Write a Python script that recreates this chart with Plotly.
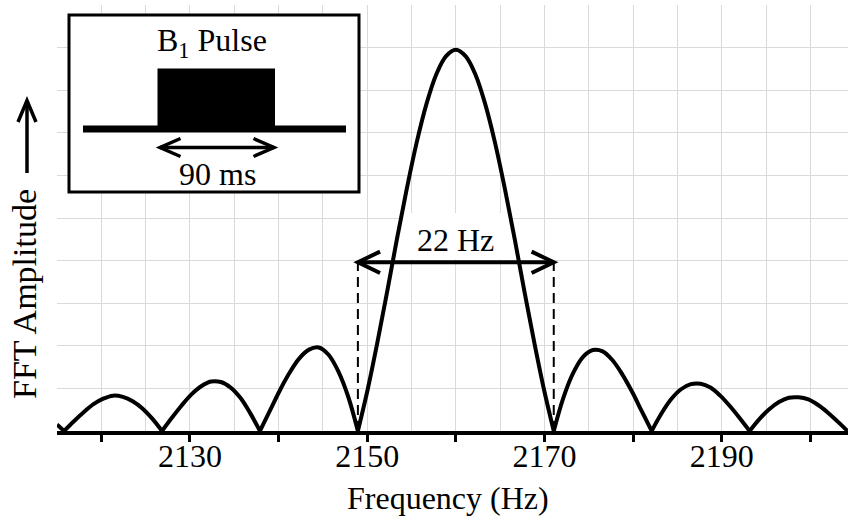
import plotly.graph_objects as go

# ---------------- data ----------------
freq = [2115.0, 2115.8, 2116.91, 2118.01, 2119.12, 2120.22, 2121.33, 2122.43, 2123.54, 2124.64, 2125.75,
        2126.85, 2127.96, 2129.06, 2130.17, 2131.27, 2132.38, 2133.48, 2134.59, 2135.69, 2136.80,
        2137.90, 2139.01, 2140.11, 2141.22, 2142.32, 2143.43, 2144.53, 2145.64, 2146.74, 2147.85,
        2148.95, 2150.06, 2151.16, 2152.27, 2153.37, 2154.48, 2155.58, 2156.69, 2157.79, 2158.90,
        2160.00, 2161.10, 2162.21, 2163.31, 2164.42, 2165.52, 2166.63, 2167.73, 2168.84, 2169.94,
        2171.05, 2172.15, 2173.26, 2174.36, 2175.47, 2176.57, 2177.68, 2178.78, 2179.89, 2180.99,
        2182.10, 2183.20, 2184.31, 2185.41, 2186.52, 2187.62, 2188.73, 2189.83, 2190.94, 2192.04,
        2193.15, 2194.25, 2195.36, 2196.46, 2197.57, 2198.67, 2199.78, 2200.88, 2201.99, 2203.09,
        2204.20]

amp = [0.15, 0,
       0.23, 0.44, 0.63, 0.76, 0.83, 0.80, 0.70, 0.53, 0.29,
       0,
       0.31, 0.60, 0.86, 1.05, 1.16, 1.15, 1.02, 0.78, 0.42,
       0,
       0.47, 0.94, 1.36, 1.70, 1.91, 1.96, 1.79, 1.40, 0.81,
       0,
       0.98, 2.09, 3.29, 4.52, 5.70, 6.77, 7.68, 8.37, 8.80, 8.95, 8.80, 8.37, 7.68, 6.77, 5.70, 4.52,
       3.29, 2.09, 0.98,
       0,
       0.79, 1.37, 1.74, 1.90, 1.87, 1.66, 1.33, 0.92, 0.46,
       0,
       0.41, 0.75, 0.98, 1.10, 1.11, 1.02, 0.83, 0.58, 0.30,
       0,
       0.28, 0.51, 0.68, 0.78, 0.79, 0.74, 0.61, 0.43, 0.22,
       0]

tick_vals = [2120, 2130, 2140, 2150, 2160, 2170, 2180, 2190, 2200]
tick_text = ["", "2130", "", "2150", "", "2170", "", "2190", ""]

fwhm_left, fwhm_right, fwhm_level = 2148.95, 2171.05, 3.96
fwhm_label = "22 Hz"
pulse_label = "B<sub>1</sub> Pulse"
duration_label = "90 ms"
x_title = "Frequency (Hz)"
y_title = "FFT Amplitude"

# ---------------- figure geometry ----------------
W, H = 848, 520
ML, MR, MT, MB = 57, 0, 5, 89
PW, PH = W - ML - MR, H - MT - MB
FONT = "Liberation Serif, Times New Roman, serif"


def pp(x, y):
    """pixel -> paper coordinates"""
    return (x - ML) / PW, (H - MB - y) / PH


def ppath(points):
    s = []
    for i, (x, y) in enumerate(points):
        px_, py_ = pp(x, y)
        s.append(("M" if i == 0 else "L") + f"{px_:.5f},{py_:.5f}")
    return " ".join(s)


fig = go.Figure()

# split curve into lobes at the zeros so each lobe is a smooth arc with sharp cusps
segs = []
cx, cy = [freq[0]], [amp[0]]
for f, a in zip(freq[1:], amp[1:]):
    cx.append(f)
    cy.append(a)
    if a == 0:
        segs.append((cx, cy))
        cx, cy = [f], [a]
if len(cx) > 1:
    segs.append((cx, cy))

for xs, ys in segs:
    fig.add_trace(go.Scatter(x=xs, y=ys, mode="lines",
                             line=dict(color="black", width=4, shape="spline", smoothing=1.0),
                             showlegend=False, hoverinfo="skip"))

shapes = []
# white patch behind the "22 Hz" label (under the curve)
shapes.append(dict(type="rect", xref="x", yref="y", x0=2153.6, x1=2166.4, y0=4.03, y1=5.12,
                   fillcolor="white", line=dict(width=0), layer="between"))
# dashed guides
for xv in (fwhm_left, fwhm_right):
    shapes.append(dict(type="line", xref="x", yref="y", x0=xv, x1=xv, y0=0, y1=fwhm_level,
                       line=dict(color="black", width=2, dash="10px,6px")))
# double arrow 22 Hz
shapes.append(dict(type="line", xref="x", yref="y", x0=fwhm_left, x1=fwhm_right,
                   y0=fwhm_level, y1=fwhm_level, line=dict(color="black", width=4)))
dxh, dyh = 2.5, 0.25
shapes.append(dict(type="path", xref="x", yref="y",
                   path=f"M{fwhm_left + dxh},{fwhm_level + dyh} L{fwhm_left},{fwhm_level} L{fwhm_left + dxh},{fwhm_level - dyh}",
                   line=dict(color="black", width=4)))
shapes.append(dict(type="path", xref="x", yref="y",
                   path=f"M{fwhm_right - dxh},{fwhm_level + dyh} L{fwhm_right},{fwhm_level} L{fwhm_right - dxh},{fwhm_level - dyh}",
                   line=dict(color="black", width=4)))

# inset box
x0, y0 = pp(69, 15)
x1, y1 = pp(359, 192)
shapes.append(dict(type="rect", xref="paper", yref="paper", x0=x0, y0=y0, x1=x1, y1=y1,
                   fillcolor="white", line=dict(color="black", width=3)))
# pulse baseline
bx0, by = pp(83, 129)
bx1, _ = pp(346, 129)
shapes.append(dict(type="line", xref="paper", yref="paper", x0=bx0, x1=bx1, y0=by, y1=by,
                   line=dict(color="black", width=7)))
# pulse block
rx0, ry0 = pp(157.5, 68.5)
rx1, ry1 = pp(275, 129)
shapes.append(dict(type="rect", xref="paper", yref="paper", x0=rx0, y0=ry0, x1=rx1, y1=ry1,
                   fillcolor="black", line=dict(width=0)))
# inset double arrow
shapes.append(dict(type="path", xref="paper", yref="paper",
                   path=ppath([(160, 147.5), (274, 147.5)]), line=dict(color="black", width=3.5)))
shapes.append(dict(type="path", xref="paper", yref="paper",
                   path=ppath([(180.5, 138.5), (160, 147.5), (180.5, 156.5)]), line=dict(color="black", width=3.5)))
shapes.append(dict(type="path", xref="paper", yref="paper",
                   path=ppath([(253.5, 138.5), (274, 147.5), (253.5, 156.5)]), line=dict(color="black", width=3.5)))
# y-axis arrow
shapes.append(dict(type="path", xref="paper", yref="paper",
                   path=ppath([(27, 173), (27, 101)]), line=dict(color="black", width=3.5)))
shapes.append(dict(type="path", xref="paper", yref="paper",
                   path=ppath([(18, 122), (27, 100.5), (36, 122)]), line=dict(color="black", width=3.5)))

annotations = []
annotations.append(dict(x=2160, y=4.48, xref="x", yref="y", text=fwhm_label, showarrow=False,
                        font=dict(family=FONT, size=32, color="black"), xanchor="center", yanchor="middle"))
ax_, ay_ = pp(211.7, 42)
annotations.append(dict(x=ax_, y=ay_, xref="paper", yref="paper", text=pulse_label, showarrow=False,
                        font=dict(family=FONT, size=32, color="black"), xanchor="center", yanchor="middle"))
ax_, ay_ = pp(217.5, 174)
annotations.append(dict(x=ax_, y=ay_, xref="paper", yref="paper", text=duration_label, showarrow=False,
                        font=dict(family=FONT, size=32, color="black"), xanchor="center", yanchor="middle"))
ax_, ay_ = pp(448, 498)
annotations.append(dict(x=ax_, y=ay_, xref="paper", yref="paper", text=x_title, showarrow=False,
                        font=dict(family=FONT, size=32, color="black"), xanchor="center", yanchor="middle"))
ax_, ay_ = pp(24, 294)
annotations.append(dict(x=ax_, y=ay_, xref="paper", yref="paper", text=y_title, showarrow=False,
                        textangle=-90,
                        font=dict(family=FONT, size=34, color="black"), xanchor="center", yanchor="middle"))

GRID = "#dadada"
fig.update_layout(
    width=W, height=H,
    margin=dict(l=ML, r=MR, t=MT, b=MB, pad=0),
    paper_bgcolor="white", plot_bgcolor="white",
    font=dict(family=FONT, color="black"),
    showlegend=False,
    xaxis=dict(range=[2115, 2204.25], tickmode="array", tickvals=tick_vals, ticktext=tick_text,
               ticks="outside", ticklen=7, tickwidth=3, tickcolor="black",
               ticklabelstandoff=-13,
               showline=True, linewidth=4, linecolor="black",
               showgrid=True, gridcolor=GRID, gridwidth=1, zeroline=False,
               tickfont=dict(family=FONT, size=32, color="black"),
               minor=dict(tickmode="linear", tick0=2115, dtick=5, showgrid=True,
                          gridcolor=GRID, gridwidth=1, ticks="")),
    yaxis=dict(range=[0, 10], tickmode="linear", tick0=0, dtick=1, showticklabels=False,
               ticks="", showgrid=True, gridcolor=GRID, gridwidth=1, zeroline=False, showline=False),
    shapes=shapes,
    annotations=annotations,
)

fig.write_html("out.html")
